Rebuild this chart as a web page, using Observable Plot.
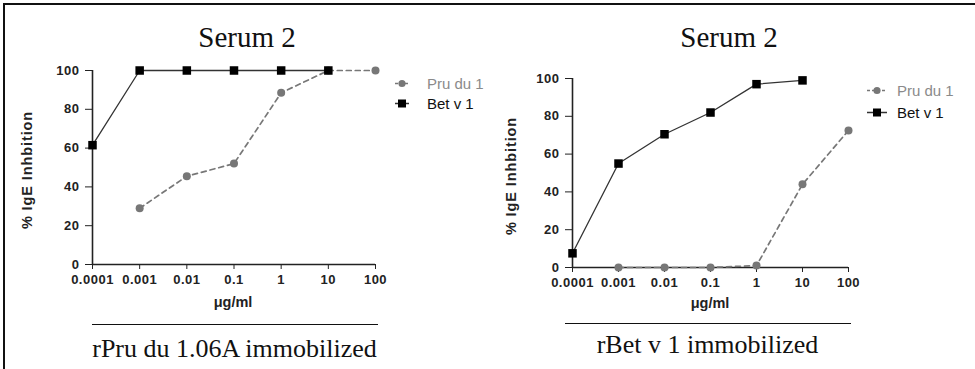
<!DOCTYPE html>
<html>
<head>
<meta charset="utf-8">
<script src="https://cdn.jsdelivr.net/npm/d3@7"></script>
<script src="https://cdn.jsdelivr.net/npm/@observablehq/plot@0.6"></script>
<style>
  html, body { margin: 0; padding: 0; background: #fff; }
  #fig { position: relative; width: 975px; height: 369px; overflow: hidden; background: #fff; }
  #fig .abs { position: absolute; white-space: nowrap; }
  .frame { position: absolute; left: 3px; top: 3px; width: 980px; height: 380px; border-left: 2px solid #111; border-top: 2px solid #111; }
  .title { font-family: "Liberation Serif", "Times New Roman", serif; font-size: 29px; line-height: 1; color: #111; transform: translateX(-50%); }
  .caption { font-family: "Liberation Serif", "Times New Roman", serif; font-size: 26px; line-height: 1; color: #111; transform: translateX(-50%); }
  .rule { position: absolute; height: 0; border-top: 1.6px solid #111; }
  .ylab { font-family: "Liberation Sans", Arial, sans-serif; font-weight: bold; font-size: 14.5px; letter-spacing: 0.9px; color: #222; line-height: 1; transform: translate(-50%, -50%) rotate(-90deg); }
  .xlab { font-family: "Liberation Sans", Arial, sans-serif; font-weight: bold; font-size: 14.5px; color: #222; line-height: 1; transform: translate(-50%, -50%); }
  .leg { font-family: "Liberation Sans", Arial, sans-serif; font-size: 15px; line-height: 1; display: flex; align-items: center; transform: translateY(-50%); }
  .leg svg { display: block; }
  .panel { position: absolute; top: 0; }
  .panel text { font-family: "Liberation Sans", Arial, sans-serif !important; font-size: 13px !important; font-weight: bold !important; letter-spacing: 0.5px; fill: #222; }
</style>
</head>
<body>
<div id="fig"></div>
<script>
// ---- data ----
const concentrations = [0.0001, 0.001, 0.01, 0.1, 1, 10, 100];
const xTickLabels = ["0.0001", "0.001", "0.01", "0.1", "1", "10", "100"];
const yTicks = [0, 20, 40, 60, 80, 100];
const seriesNames = ["Pru du 1", "Bet v 1"];

// Panel A: rPru du 1.06A immobilized
const leftPru = [null, 29, 45.5, 52, 88.5, 100, 100];
const leftBet = [61.5, 100, 100, 100, 100, 100, null];
// Panel B: rBet v 1 immobilized
const rightPru = [null, 0, 0, 0, 1, 44, 72.5];
const rightBet = [7.5, 55, 70.5, 82, 97, 99, null];

const panelTitles = ["Serum 2", "Serum 2"];
const panelCaptions = ["rPru du 1.06A immobilized", "rBet v 1 immobilized"];
const yLabel = "% IgE Inhbition";
const xLabel = "μg/ml";

const pruColor = "#777";
const betColor = "#000";

function rows(values) {
  return concentrations.map((c, i) => ({x: c, y: values[i]})).filter(d => d.y != null);
}

function panel(pru, bet, o) {
  return Plot.plot({
    width: o.width, height: 369,
    marginLeft: o.ml, marginRight: o.mr, marginTop: o.mt, marginBottom: o.mb,
    style: {fontFamily: "'Liberation Sans', Arial, sans-serif", fontSize: "13px", fontWeight: "bold", color: "#222", background: "transparent", overflow: "visible"},
    x: {type: "log", domain: [0.0001, 100], ticks: concentrations, tickFormat: d => xTickLabels[concentrations.findIndex(c => Math.abs(Math.log10(c) - Math.log10(d)) < 1e-6)], tickSize: 5, tickPadding: 5, label: null},
    y: {domain: [0, 100], ticks: yTicks, tickSize: 7, tickPadding: 6, label: null},
    marks: [
      Plot.ruleY([0], {stroke: "#222", strokeWidth: 1.6}),
      Plot.ruleX([0.0001], {stroke: "#222", strokeWidth: 1.6}),
      Plot.line(rows(pru), {x: "x", y: "y", stroke: pruColor, strokeWidth: 1.7, strokeDasharray: "5,4"}),
      Plot.line(rows(bet), {x: "x", y: "y", stroke: "#333", strokeWidth: 1.3}),
      Plot.dot(rows(pru), {x: "x", y: "y", r: 4, fill: pruColor, stroke: "none"}),
      Plot.dot(rows(bet), {x: "x", y: "y", r: 4.8, symbol: "square", fill: betColor, stroke: "none"})
    ]
  });
}

const fig = document.getElementById("fig");
function add(cls, text, left, top) {
  const d = document.createElement("div");
  d.className = "abs " + cls;
  d.textContent = text;
  d.style.left = left + "px";
  d.style.top = top + "px";
  fig.appendChild(d);
  return d;
}

const frame = document.createElement("div");
frame.className = "frame";
fig.appendChild(frame);

const layouts = [
  {left: 0, width: 487, ml: 92, mr: 112, mt: 70, mb: 105, pru: leftPru, bet: leftBet,
   titleX: 247, titleY: 23, capX: 234.5, capY: 336, ruleX: 92, ruleW: 286, ruleY: 324,
   yLabX: 27, yLabY: 170, xLabX: 233, xLabY: 302,
   legX: 395, legSym: 14, legGap: 18, legY: [83, 103]},
  {left: 487, width: 488, ml: 85, mr: 127, mt: 78, mb: 102, pru: rightPru, bet: rightBet,
   titleX: 729, titleY: 23, capX: 707.5, capY: 332, ruleX: 565, ruleW: 286, ruleY: 323,
   yLabX: 511, yLabY: 176, xLabX: 710, xLabY: 303,
   legX: 867, legSym: 20, legGap: 10, legY: [90, 112]}
];

layouts.forEach((L, i) => {
  const svg = panel(L.pru, L.bet, L);
  svg.classList.add("panel");
  svg.style.left = L.left + "px";
  fig.appendChild(svg);

  add("title", panelTitles[i], L.titleX, L.titleY);
  add("caption", panelCaptions[i], L.capX, L.capY);
  const r = document.createElement("div");
  r.className = "rule";
  r.style.left = L.ruleX + "px"; r.style.top = L.ruleY + "px"; r.style.width = L.ruleW + "px";
  fig.appendChild(r);
  add("ylab", yLabel, L.yLabX, L.yLabY);
  add("xlab", xLabel, L.xLabX, L.xLabY);

  seriesNames.forEach((name, k) => {
    const isPru = k === 0;
    const item = document.createElement("div");
    item.className = "abs leg";
    item.style.left = L.legX + "px";
    item.style.top = L.legY[k] + "px";
    item.style.color = isPru ? "#8a8a8a" : "#111";
    const w = L.legSym;
    const ns = "http://www.w3.org/2000/svg";
    const s = document.createElementNS(ns, "svg");
    s.setAttribute("width", w); s.setAttribute("height", 12);
    const ln = document.createElementNS(ns, "line");
    ln.setAttribute("x1", 0); ln.setAttribute("x2", w); ln.setAttribute("y1", 6); ln.setAttribute("y2", 6);
    ln.setAttribute("stroke", isPru ? pruColor : "#333");
    ln.setAttribute("stroke-width", 1.6);
    if (isPru) ln.setAttribute("stroke-dasharray", "3,2");
    s.appendChild(ln);
    if (isPru) {
      const c = document.createElementNS(ns, "circle");
      c.setAttribute("cx", w / 2); c.setAttribute("cy", 6); c.setAttribute("r", 3.6); c.setAttribute("fill", pruColor);
      s.appendChild(c);
    } else {
      const q = document.createElementNS(ns, "rect");
      q.setAttribute("x", w / 2 - 4); q.setAttribute("y", 2); q.setAttribute("width", 8); q.setAttribute("height", 8); q.setAttribute("fill", betColor);
      s.appendChild(q);
    }
    item.appendChild(s);
    const t = document.createElement("span");
    t.textContent = name;
    t.style.marginLeft = L.legGap + "px";
    item.appendChild(t);
    fig.appendChild(item);
  });
});
</script>
</body>
</html>
